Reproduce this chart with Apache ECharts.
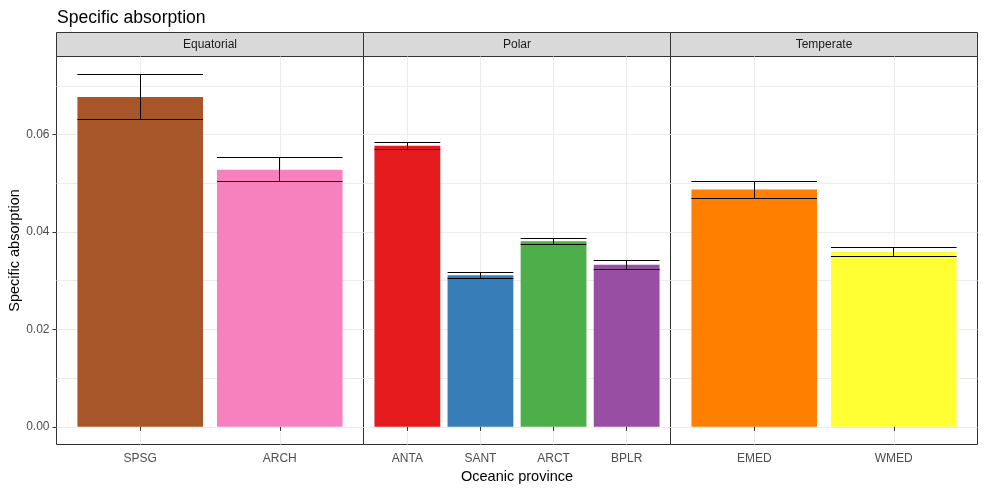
<!DOCTYPE html>
<html>
<head>
<meta charset="utf-8">
<script src="https://cdn.jsdelivr.net/npm/echarts@6/dist/echarts.min.js"></script>
<style>
  html, body { margin: 0; padding: 0; background: #fff; }
  #chart { width: 985px; height: 489px; }
</style>
</head>
<body>
<div id="chart"></div>
<script>
// facet names, provinces and the facet each one belongs to
const facets = ['Equatorial', 'Polar', 'Temperate'];
const provinces = ['SPSG', 'ARCH', 'ANTA', 'SANT', 'ARCT', 'BPLR', 'EMED', 'WMED'];
const provinceFacet = [0, 0, 1, 1, 1, 1, 2, 2];
// mean specific absorption and its error (half width of the error bar)
const meanAbs = [0.0677, 0.0528, 0.0577, 0.0311, 0.0381, 0.0333, 0.0487, 0.0359];
const errAbs = [0.0047, 0.0024, 0.0007, 0.0006, 0.0006, 0.0009, 0.00175, 0.001];
const yTicks = [0, 0.02, 0.04, 0.06];
const yMinorTicks = [0.01, 0.03, 0.05, 0.07];
const barColors = ['#A65628', '#F781BF', '#E41A1C', '#377EB8', '#4DAF4A', '#984EA3', '#FF7F00', '#FFFF33'];

const FONT = "'Liberation Sans', Arial, sans-serif";
const panelLeft = [56.5, 363.5, 670.5];
const panelWidth = [307, 307, 307];
const panelTop = 56.5;
const panelBottom = 44.5;
const stripTop = 32.5;

// ggplot style expansion: 5% of the data range on each side
const yTop = Math.max(...meanAbs.map((m, i) => m + errAbs[i]));
const yMin = -0.05 * yTop;
const yMax = 1.05 * yTop;

const crisp = v => Math.round(v - 0.5) + 0.5;

function renderBar(params, api) {
    const x = api.value(0);
    const p0 = api.coord([x - 0.45, 0]);
    const p1 = api.coord([x + 0.45, api.value(1)]);
    return {
        type: 'rect',
        shape: { x: p0[0], y: p1[1], width: p1[0] - p0[0], height: p0[1] - p1[1] },
        style: { fill: barColors[api.value(3)] }
    };
}

function renderErr(params, api) {
    const x = api.value(0);
    const m = api.value(1);
    const e = api.value(2);
    const lo = api.coord([x - 0.45, m - e]);
    const hi = api.coord([x + 0.45, m + e]);
    const mid = api.coord([x, m]);
    const st = { stroke: '#000', lineWidth: 1 };
    const yHi = crisp(hi[1]);
    const yLo = crisp(lo[1]);
    const xm = crisp(mid[0]);
    return {
        type: 'group',
        children: [
            { type: 'line', shape: { x1: lo[0], y1: yHi, x2: hi[0], y2: yHi }, style: st },
            { type: 'line', shape: { x1: lo[0], y1: yLo, x2: hi[0], y2: yLo }, style: st },
            { type: 'line', shape: { x1: xm, y1: yHi, x2: xm, y2: yLo }, style: st }
        ]
    };
}

const grids = [];
const xAxes = [];
const yAxes = [];
const series = [];
const graphics = [];

facets.forEach((facet, f) => {
    const idx = provinces.map((p, i) => i).filter(i => provinceFacet[i] === f);
    const names = idx.map(i => provinces[i]);
    const pos = names.map((n, k) => k + 1);
    const data = idx.map((i, k) => [k + 1, meanAbs[i], errAbs[i], i]);

    grids.push({
        left: panelLeft[f],
        width: panelWidth[f],
        top: panelTop,
        bottom: panelBottom,
        outerBoundsMode: 'none',
        containLabel: false,
        show: true,
        backgroundColor: '#fff',
        borderColor: '#333333',
        borderWidth: 1
    });

    xAxes.push({
        type: 'value',
        gridIndex: f,
        min: 0.4,
        max: names.length + 0.6,
        axisLine: { show: false },
        axisTick: { show: true, length: 4, customValues: pos, lineStyle: { color: '#333333' } },
        axisLabel: {
            customValues: pos,
            formatter: v => names[Math.round(v) - 1],
            color: '#4D4D4D',
            fontSize: 12,
            fontFamily: FONT,
            margin: 8
        },
        splitLine: { show: true, lineStyle: { color: '#EBEBEB', width: 1 } },
        name: f === 1 ? 'Oceanic province' : '',
        nameLocation: 'middle',
        nameGap: 23,
        nameTextStyle: { color: '#000', fontSize: 14.5, fontFamily: FONT }
    });

    yAxes.push({
        type: 'value',
        gridIndex: f,
        min: yMin,
        max: yMax,
        axisLine: { show: false },
        axisTick: { show: f === 0, length: 4, customValues: yTicks, lineStyle: { color: '#333333' } },
        axisLabel: {
            show: f === 0,
            customValues: yTicks,
            formatter: v => v.toFixed(2),
            color: '#4D4D4D',
            fontSize: 12,
            fontFamily: FONT,
            margin: 7
        },
        splitLine: { show: true, lineStyle: { color: '#EBEBEB', width: 1 } },
        name: f === 0 ? 'Specific absorption' : '',
        nameLocation: 'middle',
        nameGap: 33,
        nameTextStyle: { color: '#000', fontSize: 14.5, fontFamily: FONT }
    });
    // minor grid lines
    yAxes.push({
        type: 'value',
        gridIndex: f,
        position: 'left',
        min: yMin,
        max: yMax,
        axisLine: { show: false },
        axisTick: { show: false, customValues: yMinorTicks },
        axisLabel: { show: false, customValues: yMinorTicks },
        splitLine: { show: true, lineStyle: { color: '#EBEBEB', width: 1 } }
    });

    series.push({
        type: 'custom',
        xAxisIndex: f,
        yAxisIndex: 2 * f,
        renderItem: renderBar,
        data: data,
        z: 2
    });
    series.push({
        type: 'custom',
        xAxisIndex: f,
        yAxisIndex: 2 * f,
        renderItem: renderErr,
        data: data,
        z: 3
    });

    // facet strip
    graphics.push({
        type: 'rect',
        shape: { x: panelLeft[f], y: stripTop, width: panelWidth[f], height: panelTop - stripTop },
        style: { fill: '#D9D9D9', stroke: '#333333', lineWidth: 1 }
    });
    graphics.push({
        type: 'text',
        x: panelLeft[f] + panelWidth[f] / 2,
        y: (stripTop + panelTop) / 2 + 0.5,
        style: {
            text: facet,
            fill: '#1A1A1A',
            font: '12px ' + FONT,
            textAlign: 'center',
            textVerticalAlign: 'middle'
        }
    });
});

const chart = echarts.init(document.getElementById('chart'));
chart.setOption({
    backgroundColor: '#fff',
    animation: false,
    title: {
        text: 'Specific absorption',
        left: 52,
        top: 4,
        textStyle: { fontSize: 17.6, fontWeight: 'normal', color: '#000', fontFamily: FONT }
    },
    grid: grids,
    xAxis: xAxes,
    yAxis: yAxes,
    series: series,
    graphic: graphics
});
</script>
</body>
</html>
